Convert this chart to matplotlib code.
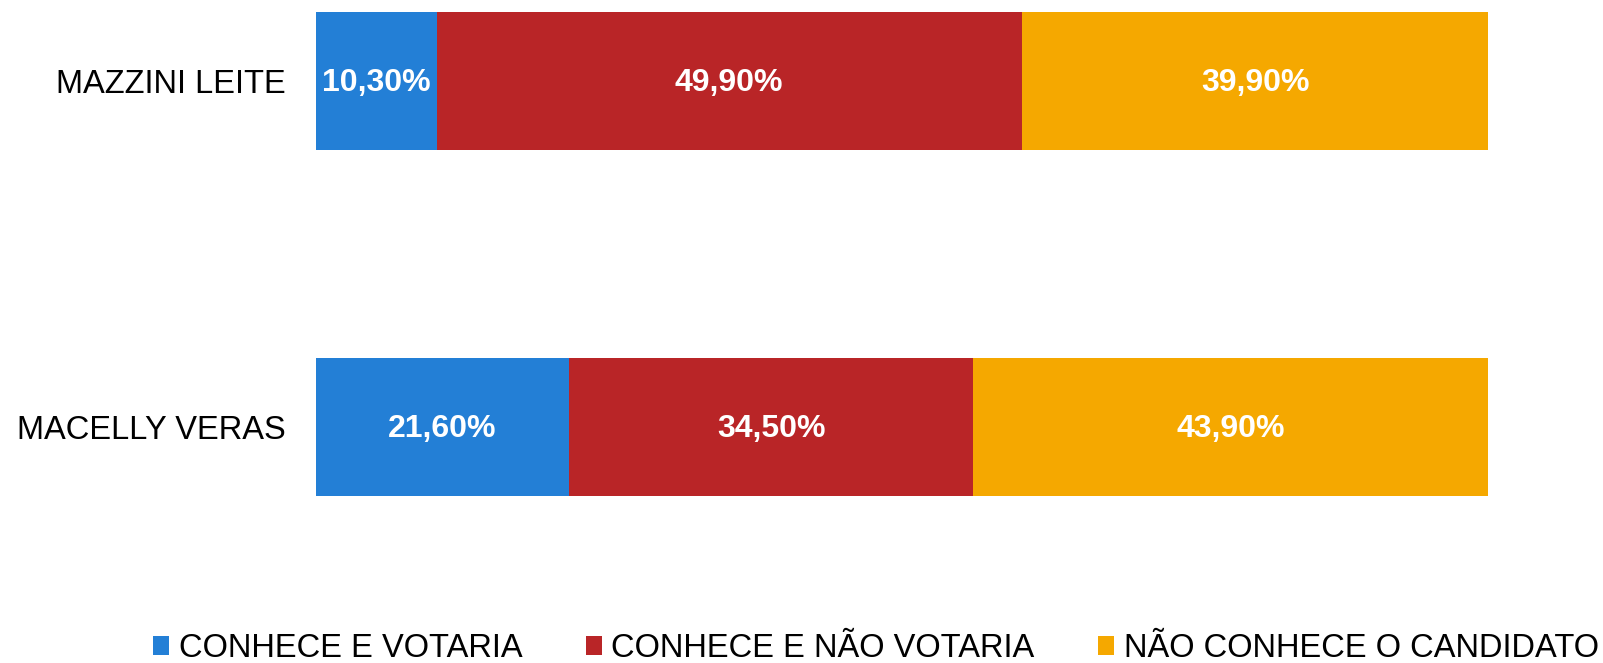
import matplotlib.pyplot as plt
import numpy as np

plt.rcParams['font.family'] = ['Liberation Sans', 'DejaVu Sans']

# Data
candidates = ['MACELLY VERAS', 'MAZZINI LEITE']
series = ['CONHECE E VOTARIA', 'CONHECE E NÃO VOTARIA', 'NÃO CONHECE O CANDIDATO']
conhece_votaria = [21.6, 10.3]
conhece_nao_votaria = [34.5, 49.9]
nao_conhece = [43.9, 39.9]
colors = ['#237FD6', '#B92527', '#F5A800']

W, H = 1603, 663
fig = plt.figure(figsize=(W / 100, H / 100), dpi=100)
ax = fig.add_axes([316 / W, 1 - 496 / H, (1488 - 316) / W, (496 - 12) / H])

y = np.arange(len(candidates))
left = np.zeros(len(candidates))
for vals, name, c in zip([conhece_votaria, conhece_nao_votaria, nao_conhece], series, colors):
    bars = ax.barh(y, vals, left=left, height=0.4, color=c, label=name)
    for b, v in zip(bars, vals):
        ax.text(b.get_x() + b.get_width() / 2, b.get_y() + b.get_height() / 2 - 0.005,
                f'{v:.2f}%'.replace('.', ','), ha='center', va='center',
                color='white', fontsize=23, fontweight='bold')
    left += np.array(vals)

ax.set_xlim(0, 100)
ax.set_ylim(-0.2, 1.2)
ax.set_yticks(y)
ax.set_yticklabels(candidates, fontsize=23.5)
ax.tick_params(axis='y', length=0, pad=22)
ax.set_xticks([])
for s in ax.spines.values():
    s.set_visible(False)

fig.legend(loc='lower left', bbox_to_anchor=(140 / W, -14 / H), ncol=3, frameon=False,
           fontsize=23.5, handlelength=0.5, handleheight=0.5, handletextpad=0.28,
           columnspacing=1.95, borderaxespad=0)

fig.savefig('out.png', dpi=100)
